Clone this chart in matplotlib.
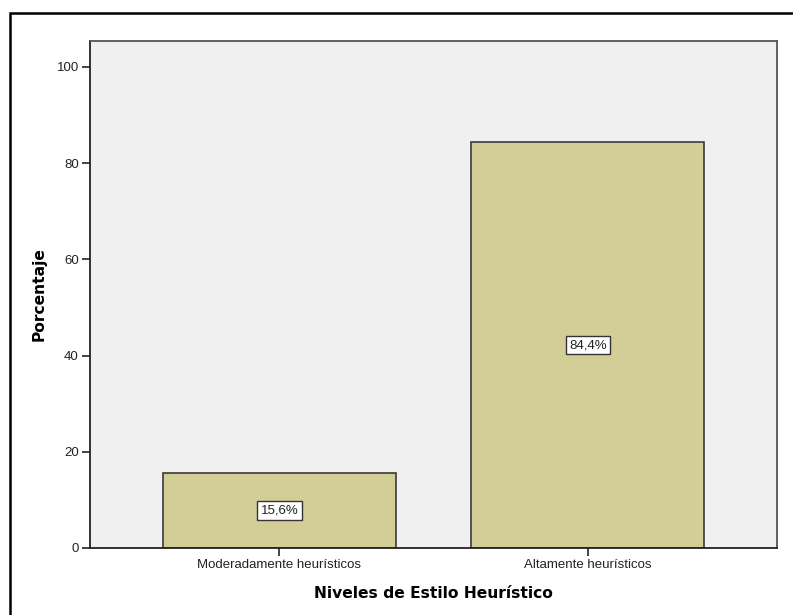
import matplotlib
matplotlib.use("Agg")
import matplotlib.pyplot as plt
from matplotlib.patches import Rectangle

categories = ["Moderadamente heurísticos", "Altamente heurísticos"]
percentages = [15.6, 84.4]
bar_labels = ["15,6%", "84,4%"]
y_ticks = [0, 20, 40, 60, 80, 100]

W, H = 793, 615
fig = plt.figure(figsize=(W / 100, H / 100), dpi=100)
ax = fig.add_axes([90 / W, 1 - 548 / H, (777 - 90) / W, (548 - 41) / H])
ax.set_facecolor("#F0F0F0")

x = list(range(len(categories)))
ax.bar(x, percentages, width=0.755, color="#D3CE97", edgecolor="#3a3a3a", linewidth=1.2)

for xi, val, lab in zip(x, percentages, bar_labels):
    ax.text(xi, val / 2, lab, ha="center", va="center", fontsize=9.5,
            family="Liberation Sans", color="#222222",
            bbox=dict(boxstyle="square,pad=0.25", facecolor="white", edgecolor="#333333", linewidth=1))

ax.set_xlim(-0.614, 1.613)
ax.set_ylim(0, 105.4)
ax.set_xticks(x)
ax.set_xticklabels(categories, fontsize=9.5, family="Liberation Sans", color="#222222")
ax.set_yticks(y_ticks)
ax.set_yticklabels([str(t) for t in y_ticks], fontsize=9.5, family="Liberation Sans", color="#222222")
ax.tick_params(axis="both", direction="out", length=6, width=1.2, color="#222222", pad=2)

for s in ax.spines.values():
    s.set_color("#555555")
    s.set_linewidth(1.3)
ax.spines["left"].set_color("#222222")
ax.spines["bottom"].set_color("#222222")

ax.set_xlabel("Niveles de Estilo Heurístico", fontsize=11.2, fontweight="bold", labelpad=11)
ax.set_ylabel("Porcentaje", fontsize=11.2, fontweight="bold", labelpad=7)

# outer frame (only left and top edges fall inside the image)
fig.add_artist(Rectangle((10 / W, -0.1), 1.2, 1 - 13 / H + 0.1, transform=fig.transFigure,
                         fill=False, edgecolor="black", linewidth=1.8))

fig.savefig("out.png", dpi=100)
